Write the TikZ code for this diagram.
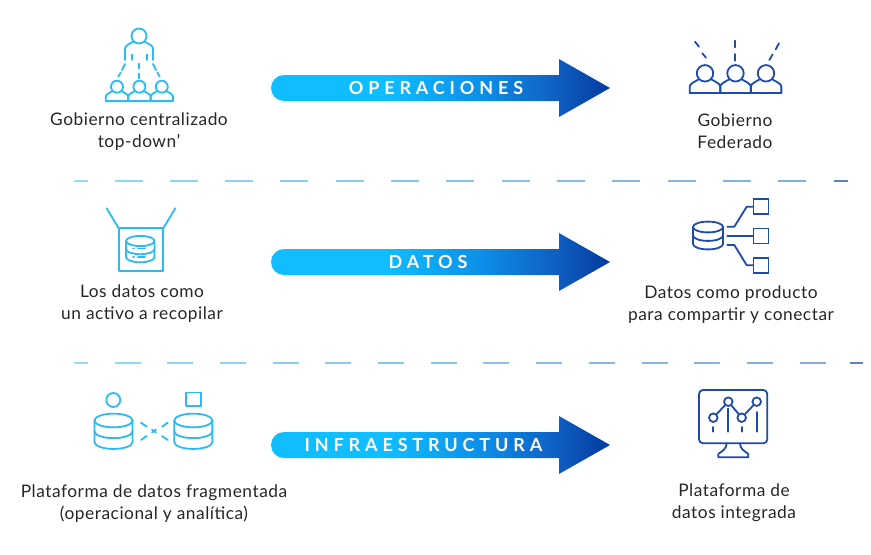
\documentclass[tikz,border=0pt]{standalone}
\usepackage{fontspec}
\setmainfont{Lato}
\usetikzlibrary{positioning}
\definecolor{cyanline}{HTML}{2BBBF2}
\definecolor{blueline}{HTML}{1F4BA8}
\definecolor{labeltext}{HTML}{262626}
\definecolor{cyanfill}{HTML}{10BDFF}
\definecolor{midfill}{HTML}{0C8FE8}
\definecolor{deepfill}{HTML}{0F5FC2}
\definecolor{darkfill}{HTML}{023A9E}
\pgfdeclarehorizontalshading{arrowshade}{100bp}{color(0bp)=(cyanfill);color(25bp)=(cyanfill);color(42bp)=(cyanfill);color(56bp)=(midfill);color(67bp)=(deepfill);color(75bp)=(darkfill);color(100bp)=(darkfill)}
\tikzstyle{label} = [text=labeltext, align=center, font=\fontsize{13}{16.6}\selectfont\addfontfeature{LetterSpace=3}]
\tikzstyle{band} = [text=white, font=\fontsize{13.5}{16}\selectfont\bfseries\addfontfeature{LetterSpace=27}]
\tikzstyle{cyanicon} = [draw=cyanline, line width=1.35pt, line cap=round, line join=round]
\tikzstyle{blueicon} = [draw=blueline, line width=1.35pt, line cap=round, line join=round]
\tikzstyle{box} = [rectangle, minimum size=11.2pt, inner sep=0pt, draw=blueline, line width=1.35pt]
\tikzstyle{dot} = [circle, minimum size=6.4pt, inner sep=0pt, draw=blueline, line width=1.35pt]
\tikzset{
  flecha/.pic={
    \path[shade, shading=arrowshade] (13,-13) -- (288,-13) -- (288,-29) -- (339,0) -- (288,29) -- (288,13) -- (13,13) arc[start angle=-270, end angle=-90, radius=13] -- cycle;
  },
  persona/.pic={
    \draw (0,0) circle (6);
    \draw (-11.2,14.4) -- (-11.2,10) .. controls (-11.2,7.5) and (-8,6.5) .. (-4.6,4.4);
    \draw (4.6,4.4) .. controls (8,6.5) and (11.2,7.5) .. (11.2,10) -- (11.2,14.4) -- (-11.2,14.4);
  },
  basedatos/.pic={
    \draw (0,0) ellipse (15 and 5.4);
    \draw (-15,0) -- (-15,17) arc[start angle=-180, end angle=-360, x radius=15, y radius=5.4] -- (15,0);
    \draw (-15,8.5) arc[start angle=-180, end angle=-360, x radius=15, y radius=5.4];
  }
}
\begin{document}
\begin{tikzpicture}[x=0.75pt, y=-0.75pt]
  \useasboundingbox (0,0) rectangle (871,554);

  % band arrows
  \pic at (271,88) {flecha};
  \pic at (271,262) {flecha};
  \pic at (271,445) {flecha};
  \node (bandOps) [band] at (436,87.5) {OPERACIONES};
  \node (bandData) [band] at (428,262) {DATOS};
  \node (bandInfra) [band] at (423.5,445) {INFRAESTRUCTURA};

  % separators
  \foreach \row/\stepx/\len/\num/\first/\last in {181/55.3/28/12/834/848, 363/52.7/26/13/850/863} {
    \fill[cyanline!50!white] (74,\row-0.7) rectangle (88,\row+0.7);
    \foreach \i in {0,...,\num} {
      \pgfmathsetmacro{\mixval}{100-\i*6}
      \fill[cyanline!\mixval!blueline!55!white] ({114.5+\stepx*\i},\row-0.7) rectangle ({114.5+\len+\stepx*\i},\row+0.7);
    }
    \fill[blueline!70!white] (\first,\row-0.7) rectangle (\last,\row+0.7);
  }

  % operaciones, left
  \begin{scope}[cyanicon]
    \draw (139,36) circle (7.5);
    \draw (125,60) -- (125,49) .. controls (125,45) and (129,44.5) .. (133.5,41.5);
    \draw (144.5,41.5) .. controls (149,44.5) and (153,45) .. (153,49) -- (153,60);
    \draw (132,54.5) -- (132,60) (147,54.5) -- (147,60);
    \draw (139,63.5) -- (139,68.5) (139,73.5) -- (139,78.5);
    \draw (125,64) -- (122,70) (120.7,72.5) -- (118.3,76.7);
    \draw (153,64) -- (156,70) (157.3,72.5) -- (159.7,76.7);
    \pic at (117,86.7) {persona};
    \pic at (139.4,86.7) {persona};
    \pic at (161.8,86.7) {persona};
  \end{scope}
  \node (opsLeft) [label] at (139,132) {Gobierno centralizado\\top-down’};

  % operaciones, right
  \begin{scope}[blueicon]
    \draw (734.7,40.7) -- (734.7,47.3) (734.7,54) -- (734.7,60.7);
    \draw (695,41.7) -- (699,46.7) (702.3,53.3) -- (706,57.7);
    \draw (779,43.3) -- (775.7,49.3) (772.7,54.3) -- (769.3,60);
    \pic[scale=1.37] at (705,73.3) {persona};
    \pic[scale=1.37] at (735.5,73.3) {persona};
    \pic[scale=1.37] at (766,73.3) {persona};
  \end{scope}
  \node (opsRight) [label] at (735,131) {Gobierno\\Federado};

  % datos, left
  \begin{scope}[cyanicon]
    \draw (118.7,228.3) rectangle (163.3,270.7);
    \draw (118.7,228.3) -- (106.7,208.3) (163.3,228.3) -- (175.3,208.3);
    \pic[scale=0.95] at (140.3,241) {basedatos};
    \draw (138,248.5) -- (145,248.5) (133,248.5) -- (134,248.5);
    \draw (138,257) -- (145,257) (133,257) -- (134,257);
  \end{scope}
  \node (dataLeft) [label] at (142,303.5) {Los datos como\\un activo a recopilar};

  % datos, right
  \pic[blueicon] at (708,227) {basedatos};
  \node (sqTop) [box] at (761,206.7) {};
  \node (sqMid) [box] at (761,236) {};
  \node (sqBot) [box] at (761,265.2) {};
  \coordinate (outTop) at (727.3,226.7);
  \coordinate (outMid) at (727.3,236);
  \coordinate (outBot) at (727.3,245);
  \draw[blueicon] (outTop) -- (734.3,226.7) -- (746.7,206.7) -- (sqTop);
  \draw[blueicon] (outMid) -- (sqMid);
  \draw[blueicon] (outBot) -- (734.3,245) -- (746.7,265.2) -- (sqBot);
  \node (dataRight) [label] at (731,305) {Datos como producto\\para compartir y conectar};

  % infraestructura, left
  \begin{scope}[cyanicon]
    \draw (113.3,400) circle (7);
    \draw (186,392.5) rectangle (200.7,405.7);
    \pic[scale=1.27] at (113.5,420.5) {basedatos};
    \pic[scale=1.27] at (193.3,420.5) {basedatos};
    \draw (141,422.7) -- (146.7,426.7) (167.7,422.7) -- (162,426.7);
    \draw (141,440) -- (146.7,436) (167.7,440) -- (162,436);
    \draw (152,429.5) -- (156,432.5) (156,429.5) -- (152,432.5);
  \end{scope}
  \node (infraLeft) [label] at (154,504) {Plataforma de datos fragmentada\\(operacional y analítica)};

  % infraestructura, right
  \draw[blueicon, rounded corners=3pt] (699,390) rectangle (767.3,443.3);
  \draw[blueicon] (726.7,443.3) .. controls (726.7,449) and (722,451) .. (718.3,454) -- (718.3,457.3) -- (748.3,457.3) -- (748.3,454) .. controls (744.5,451) and (740,449) .. (740,443.3);
  \node (ptA) [dot] at (713.3,417.7) {};
  \node (ptB) [dot] at (728.3,401.7) {};
  \node (ptC) [dot] at (741.7,417.7) {};
  \node (ptD) [dot] at (756.7,401.7) {};
  \draw[blueicon] (ptA) -- (ptB);
  \draw[blueicon] (ptB) -- (ptC);
  \draw[blueicon] (ptC) -- (ptD);
  \draw[blueicon] (713.3,427) -- (713.3,431.7) (728.3,408.5) -- (728.3,431.7);
  \draw[blueicon] (742,427) -- (742,431.7) (756.7,412) -- (756.7,431.7);
  \node (infraRight) [label] at (734,503) {Plataforma de\\datos integrada};
\end{tikzpicture}
\end{document}
